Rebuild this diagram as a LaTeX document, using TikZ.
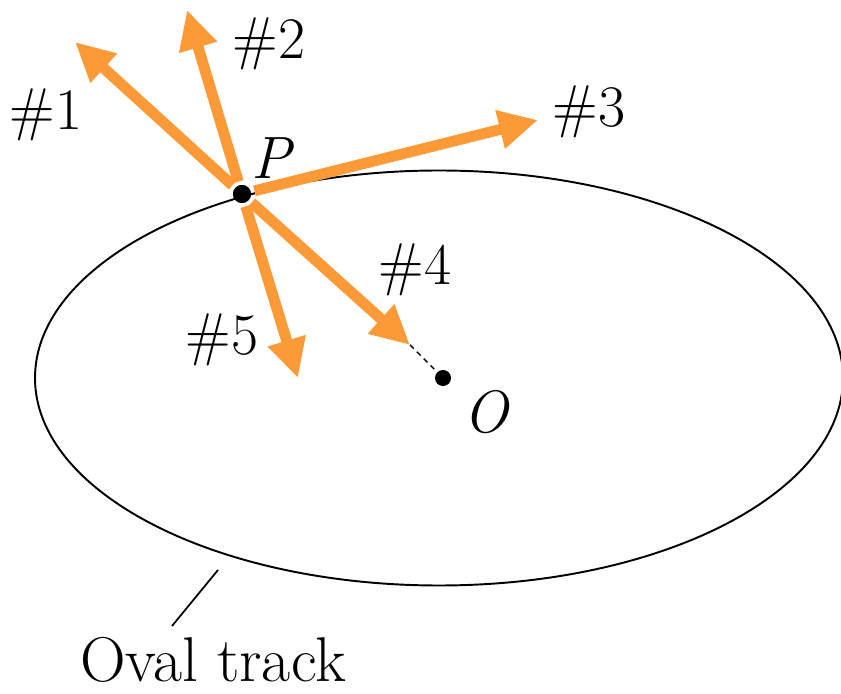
\documentclass[tikz,border=0pt]{standalone}
\usepackage{fontspec}
\usetikzlibrary{arrows.meta}
\definecolor{vecorange}{RGB}{253,154,56}

\begin{document}
\begin{tikzpicture}[
  vec/.style={draw=vecorange, line width=6.2pt,
    -{Triangle[length=0.78cm, width=0.74cm]}, shorten <=2pt},
  lbl/.style={font=\fontsize{33.5}{40}\selectfont, inner sep=0pt},
  dot/.style={circle, fill=black, inner sep=0pt, minimum size=0.36cm}]
\useasboundingbox (0,0) rectangle (16.82,13.88);
% the track
\draw[line width=1.1pt] (8.78,6.32) ellipse (8.08cm and 4.15cm);
\node[dot] (P) at (4.84,10) {};
\node[dot, minimum size=0.32cm] (O) at (8.86,6.32) {};
% arrow tips
\coordinate (t1) at (1.5,13.04);
\coordinate (t2) at (3.74,13.68);
\coordinate (t3) at (10.76,11.48);
\coordinate (t4) at (8.2,6.98);
\coordinate (t5) at (5.96,6.32);
\draw[dashed, line width=0.8pt, dash pattern=on 3pt off 2.5pt] (t4) -- (O);
\foreach \t in {t1,t2,t3,t4,t5}
  \draw[vec] (P) -- (\t);
\node[dot] at (P) {};
% labels
\node[lbl] (n1) at (0.92,11.58) {\#1};
\node[lbl] (n2) at (5.38,13.0) {\#2};
\node[lbl] (n3) at (11.78,11.64) {\#3};
\node[lbl] (n4) at (8.3,8.48) {\#4};
\node[lbl] (n5) at (4.44,7.08) {\#5};
\node[lbl, font=\fontsize{34}{40}\selectfont\itshape] (lp) at (5.42,10.72) {P};
\node[lbl, font=\fontsize{34}{40}\selectfont\itshape] (lo) at (9.72,5.64) {O};
\node[lbl, font=\fontsize{36}{44}\selectfont] (track) at (4.26,0.68) {Oval track};
\coordinate (c1) at (4.36,2.48);
\draw[line width=1pt] (c1) -- (3.44,1.36);
\end{tikzpicture}
\end{document}
